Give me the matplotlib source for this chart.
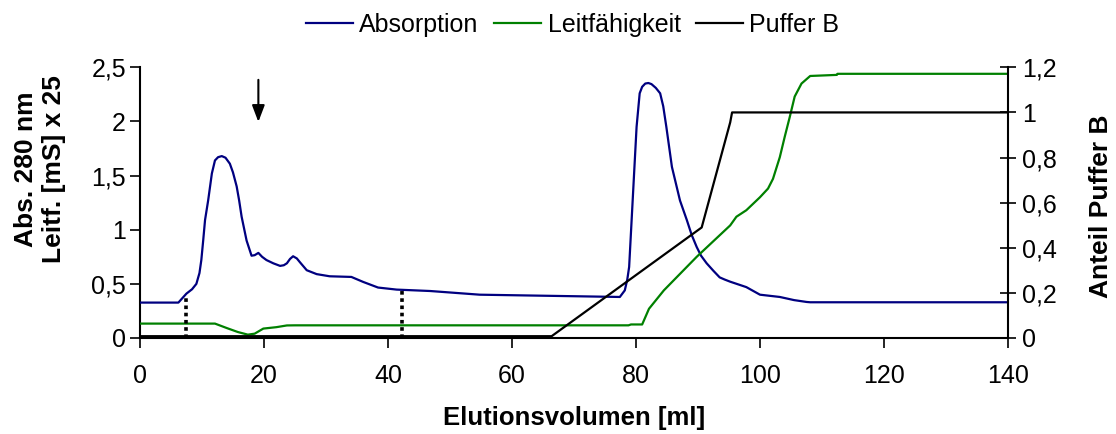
import numpy as np
import matplotlib
matplotlib.use("Agg")
import matplotlib.pyplot as plt
from matplotlib.lines import Line2D

plt.rcParams['font.family'] = ['Liberation Sans', 'DejaVu Sans']

abs_x = [0, 6.2, 7.5, 8.4, 9.1, 9.6, 9.9, 10.2, 10.5, 11.0, 11.6, 12.1, 12.6,
         13.2, 13.8, 14.5, 15.0, 15.6, 16.0, 16.4, 17.2, 18.0, 18.5, 19.1, 19.7,
         20.4, 21.5, 22.6, 23.2, 23.7, 24.2, 24.7, 25.3, 25.8, 26.9, 28.5, 30.6,
         34.1, 36.0, 38.4, 41.4, 46.8, 54.8, 77.4, 78.2, 78.6, 78.9, 79.3, 79.7,
         80.1, 80.6, 81.0, 81.5, 82.0, 82.5, 83.2, 83.9, 84.4, 84.9, 85.8, 87.1,
         88.2, 89.0, 89.8, 90.5, 91.4, 92.5, 93.5, 94.3, 95.2, 96.5, 97.8, 100.0,
         103.2, 105.5, 107.5, 108.1, 140]
abs_y = [0.327, 0.327, 0.41, 0.45, 0.50, 0.60, 0.72, 0.90, 1.09, 1.27, 1.52, 1.64,
         1.67, 1.68, 1.665, 1.61, 1.53, 1.40, 1.27, 1.12, 0.90, 0.76, 0.765, 0.786,
         0.75, 0.72, 0.69, 0.666, 0.672, 0.69, 0.73, 0.755, 0.735, 0.70, 0.626,
         0.59, 0.57, 0.564, 0.518, 0.466, 0.447, 0.434, 0.40, 0.379, 0.44, 0.54,
         0.656, 1.088, 1.52, 1.95, 2.26, 2.32, 2.35, 2.355, 2.345, 2.31, 2.26, 2.14,
         1.95, 1.58, 1.27, 1.09, 0.95, 0.84, 0.76, 0.69, 0.62, 0.56, 0.54, 0.52,
         0.495, 0.47, 0.40, 0.379, 0.35, 0.333, 0.33, 0.33]

leit_x = [0, 12.1, 14.0, 15.8, 17.4, 18.5, 19.9, 22.0, 23.7, 25.0, 78.8, 79.2,
          81.0, 82.1, 84.5, 89.8, 95.2, 96.2, 97.8, 100.0, 101.3, 102.1, 103.2,
          104.0, 104.8, 105.6, 106.7, 108.1, 112.4, 112.5, 140]
leit_y = [0.133, 0.133, 0.092, 0.055, 0.031, 0.04, 0.087, 0.10, 0.116, 0.117,
          0.117, 0.125, 0.125, 0.27, 0.44, 0.75, 1.04, 1.12, 1.18, 1.30, 1.38,
          1.47, 1.67, 1.86, 2.04, 2.23, 2.35, 2.42, 2.43, 2.44, 2.44]

puffer_x = [0, 66.4, 90.6, 95.2, 95.5, 140]
puffer_y = [0.008, 0.008, 0.49, 0.956, 1.0, 1.0]

# Fraktionsgrenzen (gepunktet) und Pfeil
frak_x = [7.4, 42.3]
frak_y = [0.40, 0.44]
pfeil_x = 19.1
pfeil_y = (2.41, 1.97)

x_ticks = [0, 20, 40, 60, 80, 100, 120, 140]
y_ticks = [0, 0.5, 1, 1.5, 2, 2.5]
y_tick_labels = ["0", "0,5", "1", "1,5", "2", "2,5"]
y2_ticks = [0, 0.2, 0.4, 0.6, 0.8, 1.0, 1.2]
y2_tick_labels = ["0", "0,2", "0,4", "0,6", "0,8", "1", "1,2"]

BLAU = "#000080"
GRUEN = "#008000"
SCHWARZ = "#000000"
FS = 18

# ─── Figur ────────────────────────────────────────────────────────────────────
fig = plt.figure(figsize=(11.16, 4.34), dpi=100)
ax = fig.add_axes([0.1254, 0.2212, 0.7778, 0.6237])
ax2 = ax.twinx()

ax.plot(abs_x, abs_y, color=BLAU, lw=1.6, zorder=3)
ax.plot(leit_x, leit_y, color=GRUEN, lw=1.6, zorder=3)
ax2.plot(puffer_x, puffer_y, color=SCHWARZ, lw=1.6, zorder=3)

for fx, fy in zip(frak_x, frak_y):
    ax.plot([fx, fx], [0, fy], color=SCHWARZ, lw=2.6, linestyle=(0, (1, 1)), zorder=4)

ax.annotate("", xy=(pfeil_x, pfeil_y[1]), xytext=(pfeil_x, pfeil_y[0]),
            arrowprops=dict(arrowstyle="-|>,head_width=0.38,head_length=1.0",
                            color=SCHWARZ, lw=1.5))

ax.set_xlim(0, 140)
ax.set_ylim(0, 2.5)
ax2.set_ylim(0, 1.2)

ax.set_xticks(x_ticks)
ax.set_xticklabels([str(v) for v in x_ticks], fontsize=FS)
ax.set_yticks(y_ticks)
ax.set_yticklabels(y_tick_labels, fontsize=FS)
ax2.set_yticks(y2_ticks)
ax2.set_yticklabels(y2_tick_labels, fontsize=FS)

ax.tick_params(axis='x', direction='out', length=7, width=1.2, pad=12)
ax.tick_params(axis='y', direction='out', length=7, width=1.2, pad=3)
ax2.tick_params(axis='y', direction='inout', length=12, width=1.2, pad=4)

for a in (ax, ax2):
    a.spines['top'].set_visible(False)
    for s in ('left', 'right', 'bottom'):
        a.spines[s].set_linewidth(1.5)
ax.spines['right'].set_visible(False)
ax2.spines['left'].set_visible(False)
ax2.spines['bottom'].set_visible(False)

# Achsenbeschriftungen
fig.text(0.5145, 1 - 418 / 434, "Elutionsvolumen [ml]", fontsize=18.5,
         fontweight='bold', ha='center', va='center')
fig.text(40 / 1116, 1 - 169 / 434, "Abs. 280 nm\nLeitf. [mS] x 25", fontsize=19,
         fontweight='bold', ha='center', va='center', rotation=90,
         multialignment='center', linespacing=1.2)
fig.text(1101 / 1116, 1 - 206 / 434, "Anteil Puffer B", fontsize=19,
         fontweight='bold', ha='center', va='center', rotation=90)

# Legende
handles = [Line2D([], [], color=BLAU, lw=1.6),
           Line2D([], [], color=GRUEN, lw=1.6),
           Line2D([], [], color=SCHWARZ, lw=1.6)]
fig.legend(handles, ["Absorption", "Leitfähigkeit", "Puffer B"], loc='center',
           bbox_to_anchor=(0.513, 1 - 25 / 434), ncol=3, frameon=False,
           fontsize=FS, handlelength=1.9, handletextpad=0.25, columnspacing=0.6)

fig.savefig("out.png", dpi=100)
